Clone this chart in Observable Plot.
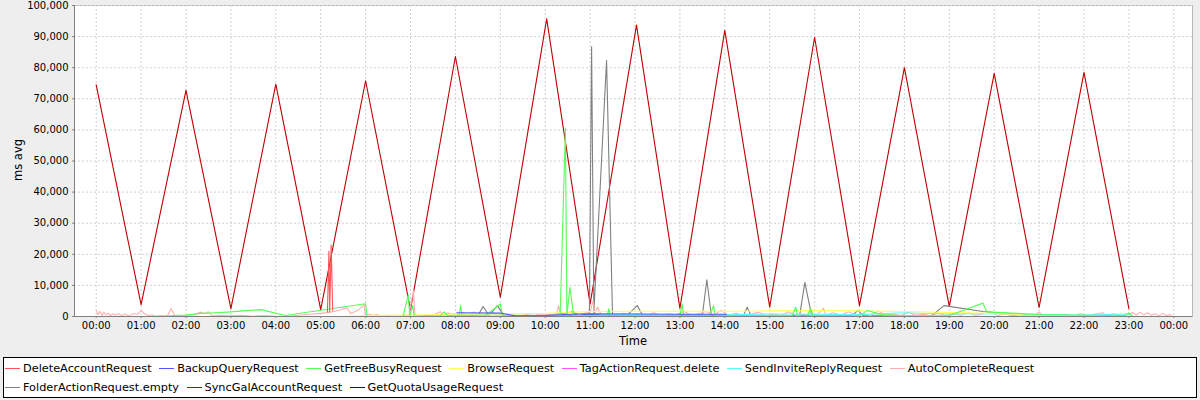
<!DOCTYPE html>
<html><head><meta charset="utf-8">
<script src="https://cdn.jsdelivr.net/npm/d3@7"></script>
<script src="https://cdn.jsdelivr.net/npm/@observablehq/plot@0.6"></script>
<style>
body{margin:0;background:#eeeeee;font-family:"DejaVu Sans",sans-serif;}
#chart{position:relative;width:1200px;height:400px;overflow:hidden;}
#plot{position:absolute;left:0;top:0;}
.axlabel{position:absolute;font-size:11.5px;color:#000;}
#xlabel{left:0;width:1266px;text-align:center;top:334px;}
#ylabel{left:18px;top:160px;transform:translate(-50%,-50%) rotate(-90deg);white-space:nowrap;}
#legend{position:absolute;left:3px;top:357px;width:1194px;height:41px;background:#fff;border:1px solid #000;box-sizing:border-box;font-size:11.3px;padding:1px 0 0 1px;display:flex;flex-wrap:wrap;align-content:flex-start;}
.item{display:flex;align-items:center;height:19px;margin-right:7.5px;white-space:nowrap;color:#000;}
.swatch{width:15px;height:0;border-top:1px solid;margin-right:3px;}
</style>
</head><body>
<div id="chart">
<div id="plot"></div>
<div class="axlabel" id="xlabel">Time</div>
<div class="axlabel" id="ylabel">ms avg</div>
<div id="legend"></div>
</div>
<script>
// Series names (legend order) and colours
const seriesNames = ["DeleteAccountRequest","BackupQueryRequest","GetFreeBusyRequest","BrowseRequest","TagActionRequest.delete","SendInviteReplyRequest","AutoCompleteRequest","FolderActionRequest.empty","SyncGalAccountRequest","GetQuotaUsageRequest"];
const seriesColors = ["#ff5555","#5555ff","#55ff55","#ffff55","#ff55ff","#55ffff","#ffafaf","#808080","#c00000","#0000c0"];
const yTicks = [0,10000,20000,30000,40000,50000,60000,70000,80000,90000,100000];
const xTickLabels = ["00:00","01:00","02:00","03:00","04:00","05:00","06:00","07:00","08:00","09:00","10:00","11:00","12:00","13:00","14:00","15:00","16:00","17:00","18:00","19:00","20:00","21:00","22:00","23:00","24:00"];

// [time, ms avg]
const syncGalAccount = [["00:00",74500],["01:00",3800],["02:00",72700],["03:00",2500],["04:00",74700],["05:00",2200],["06:00",75800],["07:00",2200],["08:00",83600],["09:00",6200],["10:02",95700],["11:00",4000],["12:02",93700],["13:00",2600],["14:00",92000],["15:00",3000],["16:00",89800],["17:00",3500],["18:00",80000],["19:00",3200],["20:00",78200],["21:00",2900],["22:00",78500],["23:00",2500]];

const autoComplete = [["00:00",2000],["00:03",600],["00:05",1700],["00:08",300],["00:10",1400],["00:13",500],["00:16",1100],["00:19",200],["00:22",900],["00:26",400],["00:30",1000],["00:34",200],["00:38",800],["00:42",300],["00:46",500],["00:50",900],["00:55",700],["01:00",1900],["01:05",800],["01:10",300],["01:15",500],["01:20",100],["01:25",300],["01:30",200],["01:35",100],["01:40",2600],["01:45",300],["01:50",100],["02:00",300],["02:10",600],["02:20",1400],["02:25",900],["02:30",1500],["02:35",200],["02:45",300],["03:00",200],["03:15",400],["03:30",100],["03:45",300],["04:00",100],["04:15",0],["04:30",400],["04:45",700],["05:00",1000],["05:15",1500],["05:25",2000],["05:35",2800],["05:40",1000],["05:50",2000],["05:58",3800],["06:00",200],["06:05",700],["06:10",300],["06:15",600],["06:20",200],["06:30",400],["06:40",100],["06:50",300],["06:58",500],["07:04",8300],["07:06",300],["07:15",200],["07:30",500],["07:40",1500],["07:45",300],["07:50",1200],["07:55",400],["08:00",900],["08:05",300],["08:10",1300],["08:15",200],["08:20",700],["08:25",1500],["08:30",300],["08:35",900],["08:40",200],["08:45",600],["08:50",1200],["08:55",300],["09:00",700],["09:05",200],["09:15",500],["09:25",200],["09:35",600],["09:45",300],["09:55",800],["10:05",300],["10:15",1000],["10:18",3500],["10:20",500],["10:30",700],["10:40",300],["10:50",900],["11:00",1500],["11:04",5000],["11:06",800],["11:10",3000],["11:15",500],["11:25",800],["11:35",400],["11:45",1000],["11:55",300],["12:05",800],["12:15",400],["12:25",1200],["12:35",300],["12:45",900],["12:55",500],["13:05",1800],["13:15",400],["13:25",900],["13:35",1600],["13:45",500],["13:55",1900],["14:05",400],["14:15",1000],["14:25",300],["14:35",700],["14:45",1400],["14:55",300],["15:05",800],["15:15",300],["15:25",1500],["15:35",400],["15:45",700],["15:55",300],["16:05",900],["16:12",2600],["16:15",400],["16:25",1200],["16:35",300],["16:45",1500],["16:55",400],["17:05",900],["17:15",300],["17:25",1800],["17:35",400],["17:45",800],["17:55",200],["18:05",1400],["18:15",400],["18:25",700],["18:35",200],["18:45",1100],["18:55",300],["19:05",900],["19:15",300],["19:25",1300],["19:35",300],["19:45",800],["19:55",1500],["20:05",300],["20:15",800],["20:25",200],["20:35",600],["20:45",200],["20:55",500],["21:00",1500],["21:05",300],["21:15",600],["21:25",200],["21:35",700],["21:45",200],["21:55",900],["22:05",300],["22:15",800],["22:25",1200],["22:30",400],["22:40",900],["22:50",300],["23:00",600],["23:05",1300],["23:10",500],["23:15",1400],["23:20",600],["23:25",1200],["23:30",400],["23:35",900],["23:40",200],["23:45",1000],["23:50",300],["23:55",600],["23:58",0]];

const getFreeBusy = [["01:26",0],["01:45",300],["02:00",500],["02:20",1000],["02:40",1200],["03:00",1500],["03:20",1900],["03:40",2200],["04:13",300],["05:00",2000],["06:00",4100],["06:02",0],["06:50",0],["06:57",7000],["06:59",300],["07:03",3500],["07:05",0],["07:40",300],["07:45",1500],["07:50",200],["08:05",300],["08:07",3500],["08:09",200],["08:40",300],["09:00",4000],["09:03",300],["09:15",200],["10:20",300],["10:27",60500],["10:29",300],["10:33",9400],["10:38",200],["11:23",300],["11:25",2500],["11:27",200],["12:30",300],["13:00",300],["13:03",4000],["13:05",200],["13:40",300],["13:45",3500],["13:47",200],["14:30",300],["15:30",300],["15:35",3000],["15:37",200],["15:50",200],["15:55",2500],["15:58",200],["16:25",300],["17:00",200],["17:10",1900],["17:30",600],["18:00",300],["18:40",200],["19:00",300],["19:45",4300],["19:50",1500],["20:30",1000],["21:00",600],["22:00",400],["22:55",300],["23:00",1200],["23:05",0]];

const folderActionEmpty = [["07:40",0],["08:30",200],["08:37",3200],["08:45",300],["08:56",3500],["09:05",200],["10:00",300],["10:38",1500],["10:45",300],["10:59",0],["11:02",86700],["11:05",1000],["11:22",82300],["11:30",0],["11:50",500],["12:03",3500],["12:10",500],["13:30",300],["13:36",11800],["13:42",300],["14:25",400],["14:30",3000],["14:35",300],["15:40",300],["15:47",11000],["15:56",300],["16:50",300],["16:58",2000],["17:05",300],["18:35",0],["18:53",3500],["19:45",1600],["20:25",800],["21:00",300],["22:00",100]];

const browse = [["05:30",0],["06:00",300],["07:00",500],["08:00",700],["09:00",800],["10:00",1000],["11:00",1600],["12:00",1700],["13:00",1700],["14:00",1700],["15:00",1800],["16:00",1900],["17:00",1800],["18:00",1600],["19:00",1300],["20:00",1000],["21:00",300],["22:00",200],["23:00",100]];

const backupQuery = [["08:02",1200],["09:00",1100],["09:20",200],["10:00",300],["10:40",800],["11:00",900],["12:00",800],["13:00",700],["14:02",700]];

const getQuotaUsage = [["10:30",500],["11:00",600],["12:00",500],["13:00",500],["14:00",400],["15:00",300],["16:00",200]];

const sendInviteReply = [["07:40",500],["08:00",900],["08:30",600],["09:00",400],["10:00",300],["11:00",500],["12:00",700],["13:00",500],["14:00",600],["15:00",800],["16:00",700],["17:00",600],["18:00",1200],["19:00",800],["20:00",1000],["21:00",600],["22:00",500],["23:00",800],["23:05",0]];

const deleteAccount = [["05:09",1500],["05:11",21000],["05:12",1500],["05:14",23000],["05:16",2000]];

const tagActionDelete = [["09:30",200],["12:00",300],["15:00",200]];

const seriesData = {
  "DeleteAccountRequest": deleteAccount,
  "BackupQueryRequest": backupQuery,
  "GetFreeBusyRequest": getFreeBusy,
  "BrowseRequest": browse,
  "TagActionRequest.delete": tagActionDelete,
  "SendInviteReplyRequest": sendInviteReply,
  "AutoCompleteRequest": autoComplete,
  "FolderActionRequest.empty": folderActionEmpty,
  "SyncGalAccountRequest": syncGalAccount,
  "GetQuotaUsageRequest": getQuotaUsage
};

const toDate = s => { const [h,m] = s.split(":").map(Number); return new Date(Date.UTC(2000,0,1,h,m)); };

// JFreeChart draws series in reverse order (first series on top)
const rows = [];
[...seriesNames].reverse().forEach(name => {
  seriesData[name].forEach(([t,v]) => rows.push({series:name, time:toDate(t), value:v}));
});

const xDomain = [new Date(Date.UTC(2000,0,1,0,-29)), new Date(Date.UTC(2000,0,2,0,25))];
const xTicks = xTickLabels.map(toDate);

const plot = Plot.plot({
  width: 1200,
  height: 350,
  marginLeft: 74,
  marginRight: 8,
  marginTop: 5,
  marginBottom: 34,
  style: {background: "transparent", fontFamily: "DejaVu Sans, sans-serif", fontSize: "10px", color: "#000"},
  x: {type: "utc", domain: xDomain},
  y: {domain: [0, 100000]},
  color: {domain: seriesNames, range: seriesColors},
  marks: [
    Plot.frame({fill: "#ffffff", stroke: "#b8b8b8"}),
    Plot.gridX(xTicks, {stroke: "#d0d0d0", strokeOpacity: 1, strokeDasharray: "2,2"}),
    Plot.gridY(yTicks, {stroke: "#d0d0d0", strokeOpacity: 1, strokeDasharray: "2,2"}),
    Plot.line(rows, {x: "time", y: "value", z: "series", stroke: "series", strokeWidth: 1.1}),
    Plot.ruleX([xDomain[0]], {stroke: "#808080"}),
    Plot.ruleY([0], {stroke: "#808080"}),
    Plot.axisX(xTicks, {tickFormat: d3.utcFormat("%H:%M"), tickSize: 2, tickPadding: 3, stroke: "#808080", label: null, fill: "#000"}),
    Plot.axisY(yTicks, {tickFormat: d3.format(","), tickSize: 2, tickPadding: 4, stroke: "#808080", label: null, fill: "#000"})
  ]
});
document.getElementById("plot").appendChild(plot);

const legend = document.getElementById("legend");
seriesNames.forEach((name, i) => {
  const item = document.createElement("div");
  item.className = "item";
  const sw = document.createElement("span");
  sw.className = "swatch";
  sw.style.borderTopColor = seriesColors[i];
  const tx = document.createElement("span");
  tx.textContent = name;
  item.appendChild(sw); item.appendChild(tx);
  legend.appendChild(item);
});
</script>
</body></html>
